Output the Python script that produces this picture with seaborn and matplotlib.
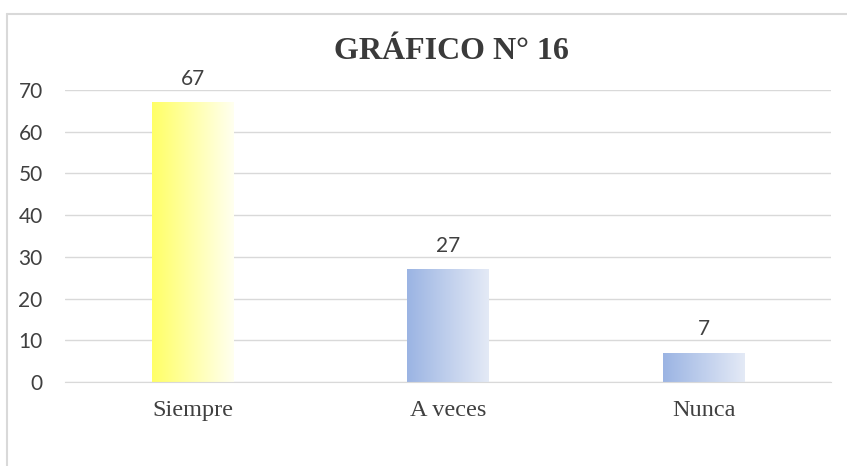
import numpy as np
import pandas as pd
import matplotlib
matplotlib.use("Agg")
import matplotlib.pyplot as plt
import seaborn as sns
from matplotlib.colors import LinearSegmentedColormap
from matplotlib.lines import Line2D

# data
categorias = ["Siempre", "A veces", "Nunca"]
valores = [67, 27, 7]
titulo = "GRÁFICO N° 16"

df = pd.DataFrame({"cat": categorias, "val": valores})

sns.set_style("white")

fig = plt.figure(figsize=(8.47, 4.66), dpi=100)
ax = fig.add_axes([0.0767, 0.180, 0.905, 0.627])

sns.barplot(data=df, x="cat", y="val", width=0.32, ax=ax, color="#9db5e3")

# gradient fills (yellow for the first bar, blue for the rest)
amarillo = LinearSegmentedColormap.from_list("am", ["#ffff66", "#fffff0"])
azul = LinearSegmentedColormap.from_list("az", ["#9bb4e3", "#e4eaf6"])
grad = np.linspace(0, 1, 256).reshape(1, -1)
for i, p in enumerate(ax.patches):
    x0, y0 = p.get_x(), p.get_y()
    w, h = p.get_width(), p.get_height()
    cmap = amarillo if i == 0 else azul
    im = ax.imshow(grad, cmap=cmap, aspect="auto",
                   extent=[x0, x0 + w, y0, y0 + h], zorder=2)
    im.set_clip_path(p)
    p.set_facecolor("none")
    p.set_edgecolor("none")
    ax.annotate(str(valores[i]), (x0 + w / 2, y0 + h), xytext=(0, 10),
                textcoords="offset points", ha="center", va="bottom",
                fontsize=15, color="#404040", family="Lato")

ax.set_xlim(-0.5, 2.5)
ax.set_ylim(0, 70)
ax.set_yticks(range(0, 71, 10))
ax.yaxis.grid(True, color="#d9d9d9", linewidth=1)
ax.set_axisbelow(True)
for s in ["top", "right", "left"]:
    ax.spines[s].set_visible(False)
ax.spines["bottom"].set_color("#d9d9d9")
ax.set_xlabel("")
ax.set_ylabel("")
ax.tick_params(axis="both", length=0)
ax.tick_params(axis="y", pad=16, labelsize=15, labelcolor="#404040")
ax.tick_params(axis="x", pad=13, labelsize=17.5, labelcolor="#404040")
for lab in ax.get_yticklabels():
    lab.set_family("Lato")
for lab in ax.get_xticklabels():
    lab.set_family("Liberation Serif")

fig.text(0.533, 0.889, titulo, ha="center", va="center", fontsize=23,
         fontweight="bold", family="Liberation Serif", color="#3a3a3a")

# chart frame (left and top edges)
fig.add_artist(Line2D([0.0083, 0.0083], [0, 0.970], transform=fig.transFigure,
                      color="#d9d9d9", linewidth=1.5))
fig.add_artist(Line2D([0.0083, 1.0], [0.970, 0.970], transform=fig.transFigure,
                      color="#d9d9d9", linewidth=1.5))

fig.savefig("out.png", dpi=100)
